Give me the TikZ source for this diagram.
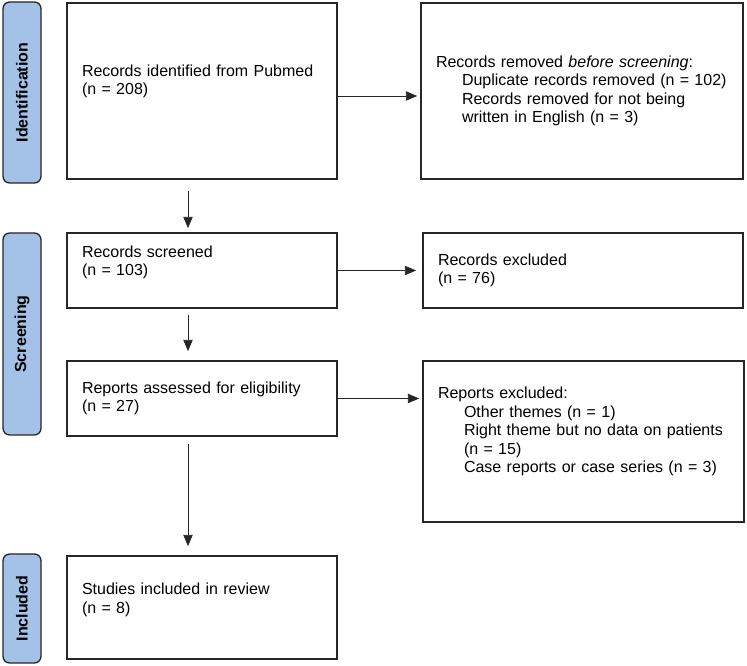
\documentclass[tikz,border=0pt]{standalone}
\usepackage{fontspec}
\setmainfont{Liberation Sans}
\usetikzlibrary{arrows.meta}
\definecolor{bandblue}{RGB}{164,194,232}
\newcommand{\sublevel}{\hspace*{19.5pt}}

\begin{document}
\begin{tikzpicture}[x=0.75pt,y=-0.75pt,>={Triangle[length=8.5pt,width=7pt]},
		box/.style={draw=black!85, line width=1.2pt, align=left, inner xsep=11.25pt, font=\fontsize{12}{13.9}\selectfont},
		band/.style={draw=black!85, fill=bandblue, line width=1pt, rounded corners=5pt, rotate=90, minimum height=28.5pt, font=\bfseries\fontsize{12}{14}\selectfont},
		flow/.style={->, line width=0.6pt, black!85}]
		\useasboundingbox (0,0) rectangle (747,666);
		
		% phase bands
		\node[band, minimum width=135.75pt] (bandid) at (22,92.5) {Identification};
		\node[band, minimum width=151.5pt] (bandscr) at (22,334) {Screening};
		\node[band, minimum width=81.75pt] (bandinc) at (22,608.5) {Included};
		
		% boxes
		\node[box, text width=180pt, minimum height=132pt, text depth=30.6pt] (ident) at (202,91) {Records identified from Pubmed\\(n = 208)};
		\node[box, text width=219pt, minimum height=132pt] (removed) at (582,91) {Records removed \textit{before screening}:\\\sublevel Duplicate records removed (n = 102)\\\sublevel Records removed for not being\\\sublevel written in English (n = 3)};
		\node[box, text width=180pt, minimum height=56.25pt, text depth=28.4pt] (screened) at (202,270.5) {Records screened\\(n = 103)};
		\node[box, text width=217.5pt, minimum height=56.25pt] (recexcl) at (583,270.5) {Records excluded\\(n = 76)};
		\node[box, text width=180pt, minimum height=56.25pt] (assessed) at (202,398.5) {Reports assessed for eligibility\\(n = 27)};
		\node[box, text width=218.25pt, minimum height=120.75pt, text depth=73pt] (repexcl) at (583.5,441.5) {Reports excluded:\\\sublevel Other themes (n = 1)\\\sublevel Right theme but no data on patients\\\sublevel (n = 15)\\\sublevel Case reports or case series (n = 3)};
		\node[box, text width=180pt, minimum height=77.25pt, text depth=27.6pt] (included) at (202,607.5) {Studies included in review\\(n = 8)};
		
		% arrows
		\draw[flow, shorten >=2.25pt] ([yshift=-3.75pt]ident.east) -- ([yshift=-3.75pt]removed.west);
		\draw[flow, shorten >=4.5pt] (screened.east) -- (recexcl.west);
		\draw[flow, shorten >=2.25pt] (assessed.east) -- (assessed.east -| repexcl.west);
		\draw[flow, shorten <=8.25pt, shorten >=3pt] ([xshift=-10.5pt]ident.south) -- ([xshift=-10.5pt]screened.north);
		\draw[flow, shorten <=4.5pt, shorten >=6.75pt] ([xshift=-10.5pt]screened.south) -- ([xshift=-10.5pt]assessed.north);
		\draw[flow, shorten <=5.25pt, shorten >=6.75pt] ([xshift=-10.5pt]assessed.south) -- ([xshift=-10.5pt]included.north);
	\end{tikzpicture}
\end{document}
